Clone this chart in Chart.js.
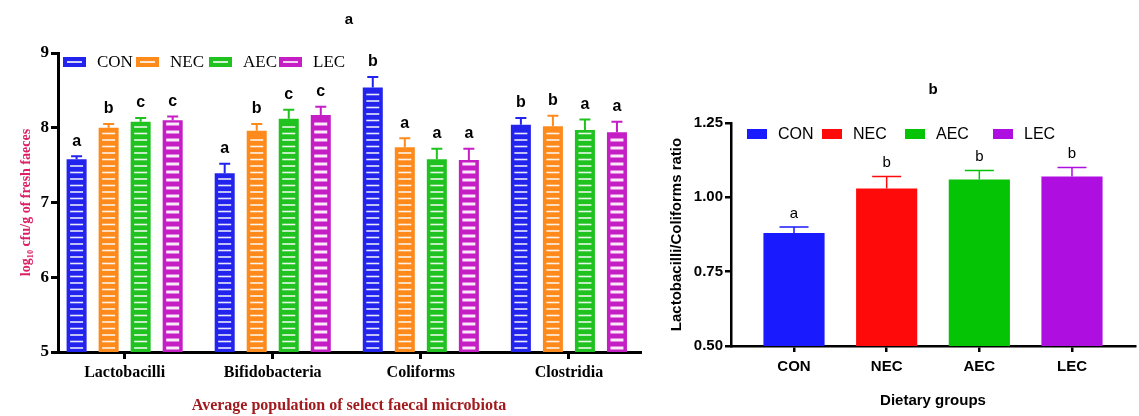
<!DOCTYPE html>
<html>
<head>
<meta charset="utf-8">
<script src="https://cdn.jsdelivr.net/npm/chart.js"></script>
<style>
  html, body { margin: 0; padding: 0; background: #fff; }
  #wrap { position: relative; width: 1139px; height: 416px; }
  #chartA { position: absolute; left: 0; top: 0; }
  #chartB { position: absolute; left: 660px; top: 0; }
</style>
</head>
<body>
<div id="wrap">
  <canvas id="chartA" width="660" height="416"></canvas>
  <canvas id="chartB" width="479" height="416"></canvas>
</div>
<script>
// Panel a - faecal microbiota (log10 cfu/g)
const microbes = ['Lactobacilli', 'Bifidobacteria', 'Coliforms', 'Clostridia'];
const groups = ['CON', 'NEC', 'AEC', 'LEC'];
const conPop = [7.58, 7.39, 8.54, 8.04];
const necPop = [8.00, 7.96, 7.74, 8.02];
const aecPop = [8.08, 8.12, 7.58, 7.97];
const lecPop = [8.10, 8.17, 7.57, 7.94];
const conErr = [0.04, 0.13, 0.14, 0.09];
const necErr = [0.05, 0.09, 0.12, 0.14];
const aecErr = [0.05, 0.12, 0.14, 0.14];
const lecErr = [0.05, 0.11, 0.15, 0.14];
const conLetters = ['a', 'a', 'b', 'b'];
const necLetters = ['b', 'b', 'a', 'b'];
const aecLetters = ['c', 'c', 'a', 'a'];
const lecLetters = ['c', 'c', 'a', 'a'];
const popTicks = [5, 6, 7, 8, 9];

// Panel b - Lactobacilli/Coliforms ratio
const ratio = [0.88, 1.03, 1.06, 1.07];
const ratioErr = [0.02, 0.04, 0.03, 0.03];
const ratioLetters = ['a', 'b', 'b', 'b'];
const ratioTicks = [0.50, 0.75, 1.00, 1.25];

const colorsA = ['#2323ee', '#ff8a1c', '#20c220', '#c41ec4'];
const colorsB = ['#1a1aff', '#ff0a0a', '#05c305', '#ae0ee0'];
const stripeA = [{ gap: 6.5, w: 1.6 }, { gap: 6.5, w: 1.6 }, { gap: 6.5, w: 1.6 }, { gap: 8, w: 3 }];

const SERIF = '"Liberation Serif", "Times New Roman", serif';
const SANS = '"Liberation Sans", Arial, sans-serif';

// white dashes inside the bars of panel a
const stripePlugin = {
  id: 'stripes',
  afterDatasetsDraw(chart) {
    const ctx = chart.ctx;
    const bottom = chart.chartArea.bottom;
    chart.data.datasets.forEach((ds, di) => {
      const st = stripeA[di];
      chart.getDatasetMeta(di).data.forEach(bar => {
        const l = bar.x - bar.width / 2, r = bar.x + bar.width / 2;
        const base = Math.min(bar.base, bottom);
        ctx.save();
        ctx.strokeStyle = 'rgba(255,255,255,0.9)';
        ctx.lineWidth = st.w;
        for (let y = base - 4; y > bar.y + 3; y -= st.gap) {
          ctx.beginPath();
          ctx.moveTo(l + 3.5, y);
          ctx.lineTo(r - 3.5, y);
          ctx.stroke();
        }
        ctx.restore();
      });
    });
  }
};

function makeErrorPlugin(errSets, letterSets, cfg) {
  return {
    id: 'errorBars',
    afterDatasetsDraw(chart) {
      const ctx = chart.ctx;
      const yScale = chart.scales.y;
      chart.data.datasets.forEach((ds, di) => {
        const meta = chart.getDatasetMeta(di);
        meta.data.forEach((bar, i) => {
          const val = meta.controller.getParsed(i).y;
          const topY = yScale.getPixelForValue(val + errSets[di][i]);
          const col = bar.options.backgroundColor;
          ctx.save();
          ctx.strokeStyle = col;
          ctx.lineWidth = cfg.lineWidth;
          ctx.beginPath();
          ctx.moveTo(bar.x, bar.y);
          ctx.lineTo(bar.x, topY);
          ctx.moveTo(bar.x - cfg.cap / 2, topY);
          ctx.lineTo(bar.x + cfg.cap / 2, topY);
          ctx.stroke();
          ctx.fillStyle = '#000';
          ctx.font = cfg.font;
          ctx.textAlign = 'center';
          ctx.textBaseline = 'bottom';
          ctx.fillText(letterSets[di][i], bar.x, topY - cfg.gap);
          ctx.restore();
        });
      });
    }
  };
}

function makeLegendPlugin(items, cfg) {
  return {
    id: 'boxLegend',
    afterDraw(chart) {
      const ctx = chart.ctx;
      ctx.save();
      ctx.font = cfg.font;
      ctx.textBaseline = 'middle';
      ctx.textAlign = 'left';
      items.forEach((it, i) => {
        const x = cfg.xs[i];
        ctx.fillStyle = it.color;
        ctx.fillRect(x, cfg.y - cfg.h / 2, cfg.w, cfg.h);
        if (cfg.striped) {
          ctx.strokeStyle = '#fff';
          ctx.lineWidth = 1.6;
          ctx.beginPath();
          ctx.moveTo(x + 4, cfg.y);
          ctx.lineTo(x + cfg.w - 4, cfg.y);
          ctx.stroke();
        }
        ctx.fillStyle = '#000';
        ctx.fillText(it.label, x + cfg.w + cfg.gap, cfg.y + 1);
      });
      ctx.restore();
    }
  };
}

// ---------- Chart a ----------
const popSets = [conPop, necPop, aecPop, lecPop];
new Chart(document.getElementById('chartA'), {
  type: 'bar',
  data: {
    datasets: groups.map((g, i) => ({
      label: g,
      data: popSets[i].map((v, k) => ({ x: k, y: v })),
      backgroundColor: colorsA[i],
      borderWidth: 0,
      categoryPercentage: 0.865,
      barPercentage: 0.625
    }))
  },
  options: {
    responsive: false,
    animation: false,
    events: [],
    layout: { padding: { left: 0, right: 20, top: 0, bottom: 0 } },
    plugins: {
      legend: { display: false },
      tooltip: { enabled: false },
      title: {
        display: true,
        text: 'a',
        fullSize: false,
        color: '#000',
        font: { family: SANS, size: 15, weight: 'bold', lineHeight: 1.2 },
        padding: { top: 11, bottom: 24 }
      }
    },
    scales: {
      x: {
        type: 'linear',
        min: -0.45,
        max: 3.48,
        offset: false,
        afterFit: s => { s.height = 64; },
        afterBuildTicks: s => { s.ticks = microbes.map((m, i) => ({ value: i })); },
        border: { display: true, color: '#000', width: 3 },
        grid: { drawOnChartArea: false, offset: false, color: '#000', lineWidth: 3, tickLength: 7 },
        ticks: {
          color: '#000', padding: 4,
          font: { family: SERIF, size: 16, weight: 'bold' },
          callback: v => microbes[v]
        },
        title: {
          display: true,
          text: 'Average population of select faecal microbiota',
          color: '#a01a1e',
          font: { family: SERIF, size: 16, weight: 'bold' },
          padding: { top: 0, bottom: 1 }
        }
      },
      y: {
        min: 5,
        max: 9,
        afterFit: s => { s.width = 58; },
        afterBuildTicks: s => { s.ticks = popTicks.map(v => ({ value: v })); },
        border: { display: true, color: '#000', width: 3 },
        grid: { drawOnChartArea: false, color: '#000', lineWidth: 3, tickLength: 7 },
        ticks: { color: '#000', padding: 2, font: { family: SERIF, size: 17, weight: 'bold' } },
        title: {
          display: true,
          text: 'log\u2081\u2080 cfu/g of fresh faeces',
          color: '#dc1f66',
          font: { family: SERIF, size: 14, weight: 'bold' },
          padding: { top: 18, bottom: 0 }
        }
      }
    }
  },
  plugins: [
    stripePlugin,
    makeErrorPlugin([conErr, necErr, aecErr, lecErr],
      [conLetters, necLetters, aecLetters, lecLetters],
      { lineWidth: 2, cap: 11, gap: 7, font: 'bold 16px ' + SANS }),
    makeLegendPlugin(groups.map((g, i) => ({ label: g, color: colorsA[i] })),
      { xs: [63, 136, 209, 279], y: 62, w: 23, h: 10, gap: 11, striped: true,
        font: '17px ' + SERIF })
  ]
});

// ---------- Chart b ----------
new Chart(document.getElementById('chartB'), {
  type: 'bar',
  data: {
    datasets: [{
      label: 'Lactobacilli/Coliforms ratio',
      data: ratio.map((v, i) => ({ x: i, y: v })),
      backgroundColor: colorsB,
      borderWidth: 0,
      categoryPercentage: 1,
      barPercentage: 0.66
    }]
  },
  options: {
    responsive: false,
    animation: false,
    events: [],
    layout: { padding: { left: 0, right: 4, top: 0, bottom: 0 } },
    plugins: {
      legend: { display: false },
      tooltip: { enabled: false },
      title: {
        display: true,
        text: 'b',
        fullSize: false,
        color: '#000',
        font: { family: SANS, size: 15, weight: 'bold', lineHeight: 1.2 },
        padding: { top: 81, bottom: 24 }
      }
    },
    scales: {
      x: {
        type: 'linear',
        min: -0.68,
        max: 3.68,
        offset: false,
        afterFit: s => { s.height = 70; },
        afterBuildTicks: s => { s.ticks = groups.map((g, i) => ({ value: i })); },
        border: { display: true, color: '#000', width: 2.5 },
        grid: { drawOnChartArea: false, offset: false, color: '#000', lineWidth: 2.5, tickLength: 6 },
        ticks: {
          color: '#000', padding: 6,
          font: { family: SANS, size: 15, weight: 'bold' },
          callback: v => groups[v]
        },
        title: {
          display: true,
          text: 'Dietary groups',
          color: '#000',
          font: { family: SANS, size: 15, weight: 'bold' },
          padding: { top: 0, bottom: 6 }
        }
      },
      y: {
        min: 0.5,
        max: 1.25,
        afterFit: s => { s.width = 71; },
        afterBuildTicks: s => { s.ticks = ratioTicks.map(v => ({ value: v })); },
        border: { display: true, color: '#000', width: 2.5 },
        grid: { drawOnChartArea: false, color: '#000', lineWidth: 2.5, tickLength: 6 },
        ticks: {
          color: '#000', padding: 2,
          font: { family: SANS, size: 15, weight: 'bold' },
          callback: v => v.toFixed(2)
        },
        title: {
          display: true,
          text: 'Lactobacilli/Coliforms ratio',
          color: '#000',
          font: { family: SANS, size: 15, weight: 'bold' },
          padding: { top: 8, bottom: 0 }
        }
      }
    }
  },
  plugins: [
    makeErrorPlugin([ratioErr], [ratioLetters],
      { lineWidth: 1.5, cap: 29, gap: 6, font: '15px ' + SANS }),
    makeLegendPlugin(groups.map((g, i) => ({ label: g, color: colorsB[i] })),
      { xs: [87, 162, 245, 333], y: 134, w: 20, h: 10, gap: 11, striped: false,
        font: '16px ' + SANS })
  ]
});
</script>
</body>
</html>
